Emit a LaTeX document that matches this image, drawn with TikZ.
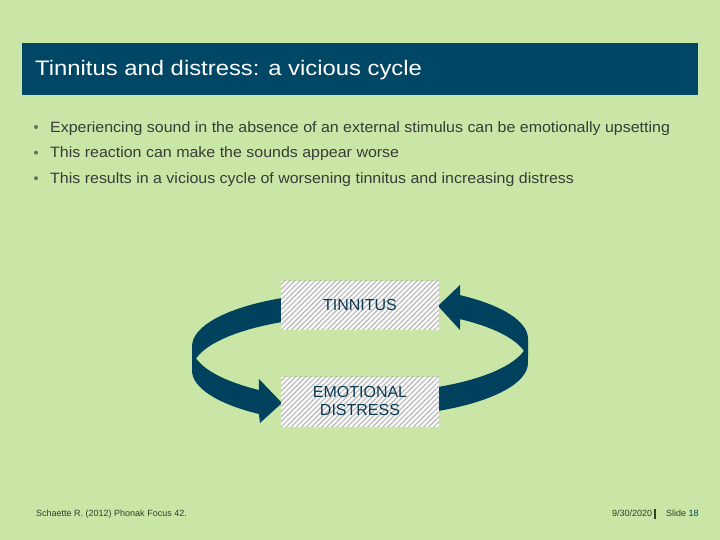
\documentclass[tikz,border=0pt]{standalone}
\usepackage{fontspec}
\setmainfont{Liberation Sans}
\usetikzlibrary{patterns.meta}
\definecolor{bgcol}{RGB}{201,230,166}
\definecolor{barcol}{RGB}{0,71,102}
\definecolor{arrcol}{RGB}{0,66,94}
\definecolor{txtcol}{RGB}{55,60,55}
\definecolor{boxtxt}{RGB}{12,58,85}
\definecolor{footcol}{RGB}{50,62,40}
\definecolor{dotcol}{RGB}{100,115,95}
\tikzset{
  bullettext/.style={anchor=base west, inner sep=0pt, text=txtcol, font=\fontsize{15}{18}\selectfont},
  bulletdot/.style={circle, fill=dotcol, inner sep=0pt, minimum size=4pt},
  hatchbox/.style={fill=white!96!gray, postaction={pattern={Lines[angle=45,distance=3.6pt,line width=1pt]}, pattern color=gray!60}},
  boxlabel/.style={text=boxtxt, font=\fontsize{16}{18}\selectfont, align=center, inner sep=0pt},
  arrowshape/.style={fill=arrcol},
  foottext/.style={text=footcol, font=\fontsize{9}{10}\selectfont, inner sep=0pt, anchor=base west}
}
\begin{document}
\begin{tikzpicture}[x=1pt,y=1pt]
\useasboundingbox (0,0) rectangle (720,540);
\fill[bgcol] (0,0) rectangle (720,540);
% title bar
\fill[barcol] (22,445) rectangle (698,497);
\node[anchor=base west, inner sep=0pt, text=white, font=\fontsize{21}{24}\selectfont] (title) at (35,464.3) {\scalebox{1.135}[1]{Tinnitus and distress: a vicious cycle}};
% bullets
\node[bullettext] (b1) at (50,407.7) {\scalebox{1.065}[1]{Experiencing sound in the absence of an external stimulus can be emotionally upsetting}};
\node[bullettext] (b2) at (50,382) {\scalebox{1.065}[1]{This reaction can make the sounds appear worse}};
\node[bullettext] (b3) at (50,356.5) {\scalebox{1.065}[1]{This results in a vicious cycle of worsening tinnitus and increasing distress}};
\node[bulletdot] (d1) at (36,413) {};
\node[bulletdot] (d2) at (36,387.3) {};
\node[bulletdot] (d3) at (36,361.8) {};
% left arrow (down, into distress)
\fill[arrowshape] (282,242.0) arc[start angle=117.67, end angle=180, x radius=168, y radius=54.6]
  -- (192,169.6) arc[start angle=180, end angle=233.0, x radius=168, y radius=54.6]
  -- (260,117) -- (282,137) -- (259,161) -- (258.9,150.0)
  arc[start angle=233.0, end angle=192.7, x radius=168, y radius=54.6]
  arc[start angle=167.3, end angle=117.67, x radius=168, y radius=54.6] -- cycle;
% right arrow (up, into tinnitus)
\fill[arrowshape] (438,129.0) arc[start angle=-62.33, end angle=0, x radius=168, y radius=54.4]
  -- (528,201.2) arc[start angle=0, end angle=53.47, x radius=168, y radius=54.4]
  -- (460,255) -- (438,234) -- (460,210) -- (460,220.9)
  arc[start angle=53.47, end angle=12.74, x radius=168, y radius=54.4]
  arc[start angle=-12.74, end angle=-62.33, x radius=168, y radius=54.4] -- cycle;
% boxes
\path[hatchbox] (281,210) rectangle (439,259);
\path[hatchbox] (281,113) rectangle (439,163);
\node[boxlabel, anchor=base] (tin) at (360,229) {TINNITUS};
\node[boxlabel, anchor=base] (emo) at (360,142.3) {EMOTIONAL};
\node[boxlabel, anchor=base] (dis) at (360,124.3) {DISTRESS};
% footer
\node[foottext] (ref) at (36,23) {Schaette R. (2012) Phonak Focus 42.};
\node[foottext] (date) at (612,23) {9/30/2020};
\fill[footcol] (653.5,21) rectangle (655.5,31);
\node[foottext] (slide) at (666,23) {Slide \textcolor{barcol}{18}};
\end{tikzpicture}
\end{document}
